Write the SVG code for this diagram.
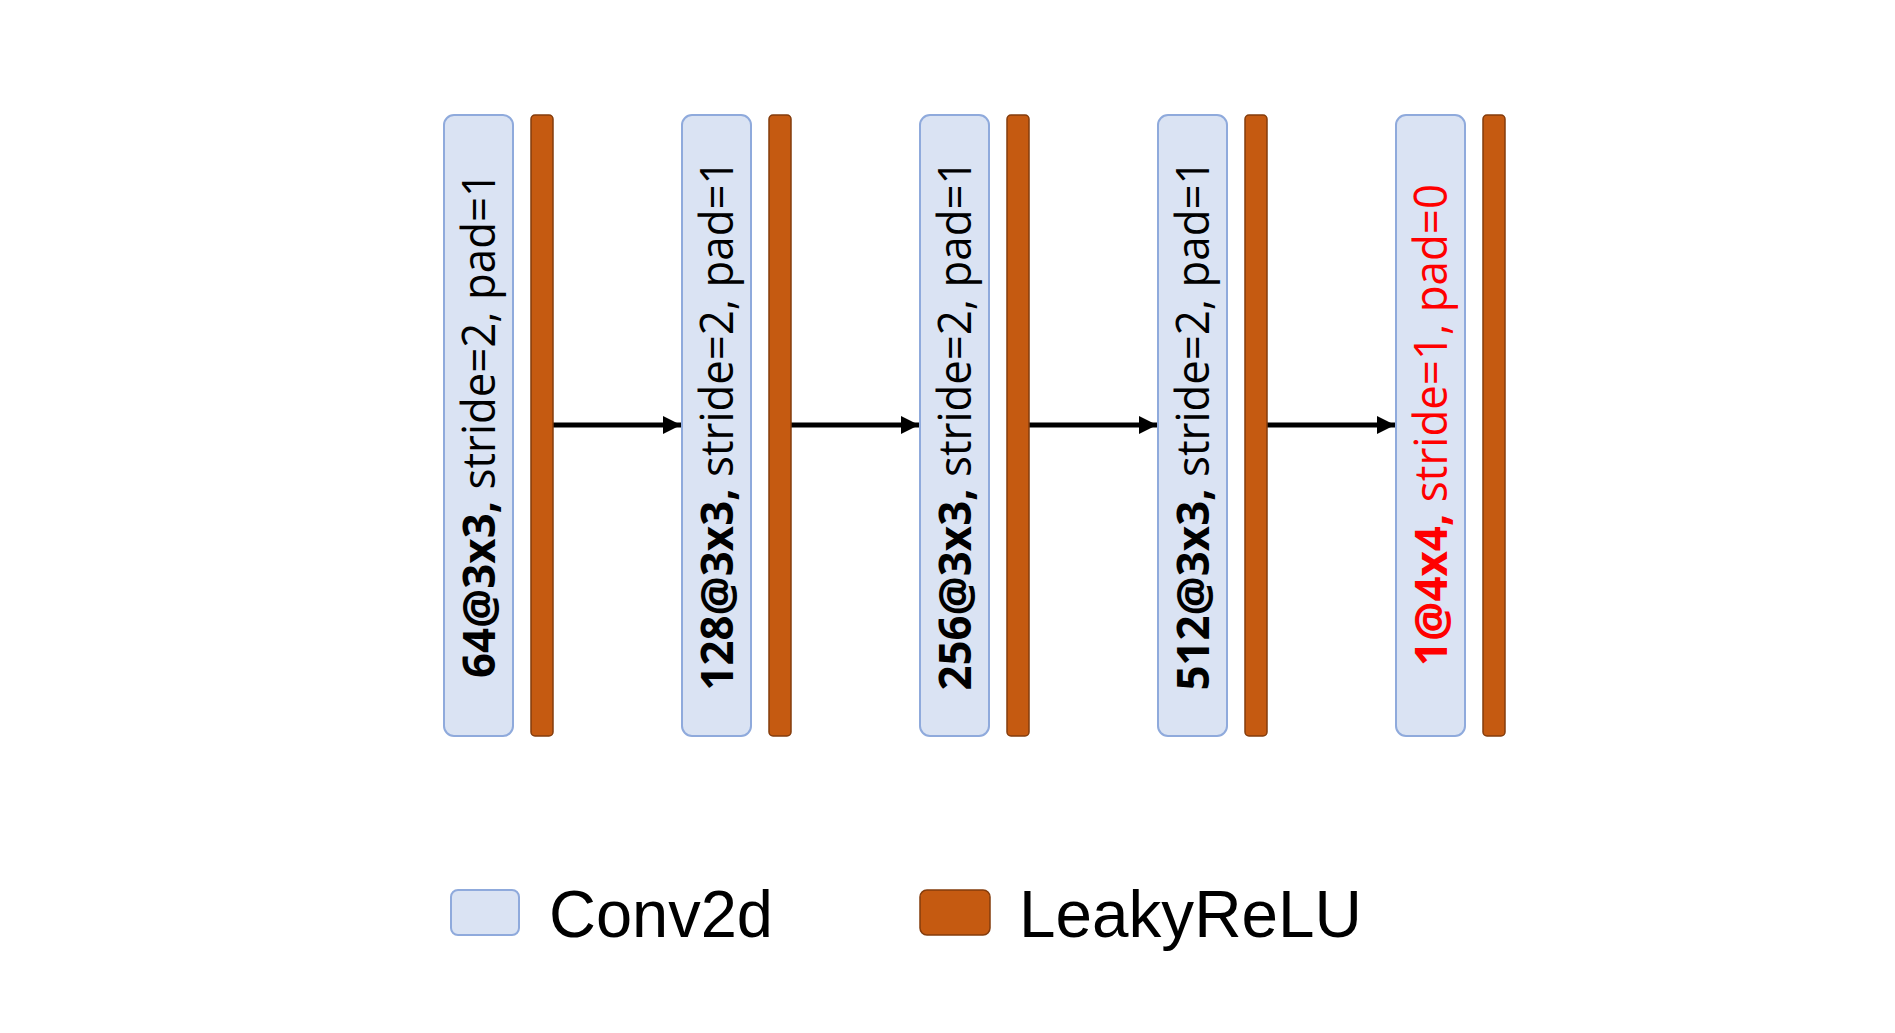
<svg xmlns="http://www.w3.org/2000/svg" width="1895" height="1033" viewBox="0 0 1895 1033">
<style>
.conv{fill:#DAE3F3;stroke:#8FAADC;stroke-width:2}
.relu{fill:#C55A11;stroke:#843C0C;stroke-width:1.5}
.lbl{font-family:"Open Sans","Noto Sans",sans-serif;font-size:45px;fill:#000;font-weight:500}
.red{fill:#FF0000}
.b{font-weight:bold}
.leg{font-family:"Liberation Sans",Arial,sans-serif;font-size:66px;fill:#000}
.conn{stroke:#000;stroke-width:5;fill:none}
</style>
<defs>
<marker id="ah" viewBox="0 0 10 10" refX="10" refY="5" markerUnits="userSpaceOnUse" markerWidth="19" markerHeight="18" orient="auto">
<path d="M0,0 L10,5 L0,10 Z" fill="#000"/>
</marker>
</defs>
<rect width="1895" height="1033" fill="#fff"/>
<g id="connectors">
<line class="conn" x1="553" y1="425" x2="681" y2="425" marker-end="url(#ah)"/>
<line class="conn" x1="791" y1="425" x2="919" y2="425" marker-end="url(#ah)"/>
<line class="conn" x1="1029" y1="425" x2="1157" y2="425" marker-end="url(#ah)"/>
<line class="conn" x1="1267" y1="425" x2="1395" y2="425" marker-end="url(#ah)"/>
</g>
<g id="conv1">
<rect class="conv" x="444" y="115" width="69" height="621" rx="10"/>
<text class="lbl" transform="translate(495,425) rotate(-90)" text-anchor="middle" textLength="506" lengthAdjust="spacingAndGlyphs"><tspan class="b">64@3x3,</tspan> stride=2, pad=1</text>
</g>
<g id="relu1"><rect class="relu" x="531" y="115" width="22" height="621" rx="4"/></g>
<g id="conv2">
<rect class="conv" x="682" y="115" width="69" height="621" rx="10"/>
<text class="lbl" transform="translate(733,425) rotate(-90)" text-anchor="middle" textLength="531" lengthAdjust="spacingAndGlyphs"><tspan class="b">128@3x3,</tspan> stride=2, pad=1</text>
</g>
<g id="relu2"><rect class="relu" x="769" y="115" width="22" height="621" rx="4"/></g>
<g id="conv3">
<rect class="conv" x="920" y="115" width="69" height="621" rx="10"/>
<text class="lbl" transform="translate(971,425) rotate(-90)" text-anchor="middle" textLength="531" lengthAdjust="spacingAndGlyphs"><tspan class="b">256@3x3,</tspan> stride=2, pad=1</text>
</g>
<g id="relu3"><rect class="relu" x="1007" y="115" width="22" height="621" rx="4"/></g>
<g id="conv4">
<rect class="conv" x="1158" y="115" width="69" height="621" rx="10"/>
<text class="lbl" transform="translate(1209,425) rotate(-90)" text-anchor="middle" textLength="531" lengthAdjust="spacingAndGlyphs"><tspan class="b">512@3x3,</tspan> stride=2, pad=1</text>
</g>
<g id="relu4"><rect class="relu" x="1245" y="115" width="22" height="621" rx="4"/></g>
<g id="conv5">
<rect class="conv" x="1396" y="115" width="69" height="621" rx="10"/>
<text class="lbl red" transform="translate(1447,425) rotate(-90)" text-anchor="middle" textLength="482" lengthAdjust="spacingAndGlyphs"><tspan class="b">1@4x4,</tspan> stride=1, pad=0</text>
</g>
<g id="relu5"><rect class="relu" x="1483" y="115" width="22" height="621" rx="4"/></g>
<g id="legend-conv2d">
<rect class="conv" x="451" y="890" width="68" height="45" rx="7"/>
<text class="leg" x="549" y="937" textLength="224" lengthAdjust="spacingAndGlyphs">Conv2d</text>
</g>
<g id="legend-leakyrelu">
<rect class="relu" x="920" y="890" width="70" height="45" rx="7"/>
<text class="leg" x="1019" y="937" textLength="343" lengthAdjust="spacingAndGlyphs">LeakyReLU</text>
</g>
</svg>
